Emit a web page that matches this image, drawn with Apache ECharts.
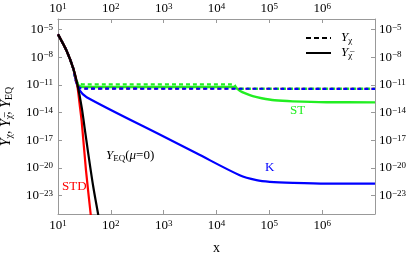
<!DOCTYPE html>
<html><head><meta charset="utf-8">
<script src="https://cdn.jsdelivr.net/npm/echarts@6/dist/echarts.min.js"></script>
<style>html,body{margin:0;padding:0;background:#fff}#c{width:409px;height:256px}</style>
</head><body><div id="c"></div>
<script>
// tick exponents
const xTickExps = [1, 2, 3, 4, 5, 6, 7];
const yTickExps = [-23, -20, -17, -14, -11, -8, -5];

// Equilibrium Y_EQ (mu = 0)
const eqX = [10, 14.6, 19.5, 23.2, 28.1, 31.6, 37.4, 46.5, 58.2, 63.1];
const eqY = [2.9e-6, 4.6e-8, 5.6e-10, 1.2e-11, 3.6e-14, 3.2e-16, 3.5e-19, 8.9e-23, 6.3e-26, 4e-27];

// STD
const stdBarX = [10, 14.6, 19.5, 22.9, 26.1, 28.1, 33.9, 41.5, 43.7];
const stdBarY = [2.9e-6, 4.6e-8, 5.6e-10, 1.26e-11, 3.6e-14, 1e-15, 5e-21, 1e-25, 5e-27];
const stdX = [10, 14.6, 19.5, 21.9, 25.1, 31.6, 1e7];
const stdY = [2.9e-6, 4.6e-8, 5.6e-10, 2.5e-11, 5e-12, 3.8e-12, 3.7e-12];

// K
const kX = [10, 14.6, 19.5, 21.9, 25.1, 31.6, 1e7];
const kY = [2.9e-6, 4.6e-8, 5.6e-10, 2.5e-11, 5e-12, 3.8e-12, 3.7e-12];
const kBarX = [10, 14.6, 19.5, 21.9, 25.1, 34.9, 977, 4190, 27500, 57000, 1.02e5, 2.8e5, 1.2e6, 1e7];
const kBarY = [2.9e-6, 4.6e-8, 5.6e-10, 2.5e-11, 3e-12, 4.4e-13, 2.6e-17, 3.8e-19, 1.6e-21, 4.7e-22, 3.1e-22, 2.4e-22, 2.0e-22, 2.0e-22];

// ST
const stX = [10, 14.6, 19.5, 21.9, 25.1, 31.6, 21200, 23500, 27500, 1e7];
const stY = [2.9e-6, 4.6e-8, 5.6e-10, 3.2e-11, 1.3e-11, 1.1e-11, 1.1e-11, 5e-12, 3.8e-12, 3.7e-12];
const stBarX = [10, 14.6, 19.5, 21.9, 25.1, 31.6, 21200, 27500, 34300, 48500, 71800, 1.26e5, 2.77e5, 1.22e6, 1e7];
const stBarY = [2.9e-6, 4.6e-8, 5.6e-10, 3.2e-11, 7.4e-12, 5.8e-12, 5.8e-12, 2.3e-12, 1.23e-12, 5.9e-13, 3.5e-13, 2.1e-13, 1.6e-13, 1.3e-13, 1.26e-13];

const pts = (xs, ys) => xs.map((x, i) => [Math.log10(x), Math.log10(ys[i])]);

const RED = '#ff0000', BLUE = '#0000ff', GREEN = '#22ee22';
const SERIF = 'Liberation Serif';
const GRAY = '#999999';

const tickRich = {
  b: { fontFamily: SERIF, fontSize: 13, color: '#000', lineHeight: 13, verticalAlign: 'bottom' },
  s: { fontFamily: SERIF, fontSize: 9, color: '#000', lineHeight: 9, verticalAlign: 'top', padding: [0, 0, 5, 0] }
};
const fmtExp = v => {
  const e = Math.round(v);
  return '{b|10}{s|' + String(e).replace('-', '\u2212') + '}';
};

function xAxisCfg(pos) {
  return {
    type: 'value', position: pos, min: 1, max: 7, interval: 1,
    axisLine: { show: true, onZero: false, lineStyle: { color: GRAY, width: 1 } },
    axisTick: { show: true, inside: true, length: 4, lineStyle: { color: GRAY } },
    axisLabel: {
      margin: pos === 'top' ? 4 : 5,
      formatter: v => (Math.round(v) === 7 ? '' : fmtExp(v)), rich: tickRich
    },
    splitLine: { show: false }
  };
}
function yAxisCfg(pos) {
  return {
    type: 'value', position: pos, min: -25, max: -3.87,
    axisLine: { show: true, onZero: false, lineStyle: { color: GRAY, width: 1 } },
    axisTick: { show: true, inside: true, length: 4, customValues: yTickExps, lineStyle: { color: GRAY } },
    axisLabel: { margin: pos === 'left' ? 5 : 4, customValues: yTickExps, formatter: fmtExp, rich: tickRich },
    splitLine: { show: false }
  };
}

const bottomX = xAxisCfg('bottom');
bottomX.name = 'x';
bottomX.nameLocation = 'middle';
bottomX.nameGap = 27;
bottomX.nameTextStyle = { fontFamily: SERIF, fontSize: 14, color: '#000' };

const leftY = yAxisCfg('left');
leftY.name = '{i|Y}{sub|\u03c7}{n|, }{i|Y}{sub|\u03c7\u0305}{n|, }{i|Y}{sub|EQ}';
leftY.nameLocation = 'middle';
leftY.nameRotate = 90;
leftY.nameGap = 44;
leftY.nameTextStyle = {
  rich: {
    i: { fontFamily: SERIF, fontStyle: 'italic', fontSize: 14, color: '#000', lineHeight: 15, verticalAlign: 'top' },
    n: { fontFamily: SERIF, fontSize: 14, color: '#000', lineHeight: 15, verticalAlign: 'top' },
    sub: { fontFamily: SERIF, fontSize: 10, color: '#000', lineHeight: 10, verticalAlign: 'bottom', padding: [8, 0, 0, 0] }
  }
};

function line(name, data, color, dash, z, width) {
  return {
    name, type: 'line', data, symbol: 'none', smooth: 0.3, z,
    xAxisIndex: 0, yAxisIndex: 0, clip: true, silent: true,
    lineStyle: { color, width: width || 2.2, type: dash || 'solid', cap: 'butt' }
  };
}

const chart = echarts.init(document.getElementById('c'), null, { renderer: 'canvas' });
const legendRich = {
  i: { fontFamily: SERIF, fontStyle: 'italic', fontSize: 13, color: '#000', lineHeight: 14, verticalAlign: 'top' },
  sub: { fontFamily: SERIF, fontSize: 9, color: '#000', lineHeight: 9, verticalAlign: 'bottom', padding: [6, 0, 0, 0] }
};
chart.setOption({
  animation: false,
  backgroundColor: '#fff',
  grid: { left: 58, right: 34, top: 19, bottom: 42, containLabel: false, outerBoundsMode: 'none' },
  xAxis: [bottomX, xAxisCfg('top')],
  yAxis: [leftY, yAxisCfg('right')],
  legend: {
    orient: 'vertical', left: 300, top: 25, itemWidth: 25, itemHeight: 14, itemGap: 0,
    data: ['Y\u03c7', 'Y\u03c7\u0305'],
    formatter: n => '{i|Y}{sub|' + n.slice(1) + '}',
    textStyle: { rich: legendRich, padding: [0, 0, 0, 5] },
    itemStyle: { color: 'rgba(0,0,0,0)', borderWidth: 0, borderColor: 'rgba(0,0,0,0)' }
  },
  series: [
    { name: 'Y\u03c7', type: 'line', data: [], symbol: 'none', lineStyle: { color: '#000', width: 2.2, type: [5, 3] }, itemStyle: { color: 'rgba(0,0,0,0)' } },
    { name: 'Y\u03c7\u0305', type: 'line', data: [], symbol: 'none', lineStyle: { color: '#000', width: 2.2 }, itemStyle: { color: 'rgba(0,0,0,0)' } },
    line('ST Ybar', pts(stBarX, stBarY), GREEN, 'solid', 3, 2.4),
    line('STD Y', pts(stdX, stdY), RED, [3, 4], 4),
    line('ST Y', pts(stX, stY), GREEN, [4, 3], 5, 2.4),
    line('K Y', pts(kX, kY), BLUE, [4, 3], 6),
    line('K Ybar', pts(kBarX, kBarY), BLUE, 'solid', 7),
    line('STD Ybar', pts(stdBarX, stdBarY), RED, 'solid', 8),
    line('EQ', pts(eqX, eqY), '#000', 'solid', 9)
  ],
  graphic: [
    { type: 'text', left: 62, top: 180, style: { text: 'STD', fill: RED, font: '13px "Liberation Serif"' } },
    { type: 'text', left: 265, top: 161, style: { text: 'K', fill: BLUE, font: '13px "Liberation Serif"' } },
    { type: 'text', left: 290, top: 104, style: { text: 'ST', fill: GREEN, font: '13px "Liberation Serif"' } },
    { type: 'text', left: 106, top: 148, style: {
        text: '{i|Y}{sub|EQ}{n|(}{i|\u03bc}{n|=0)}',
        rich: {
          i: { fontFamily: SERIF, fontStyle: 'italic', fontSize: 13, fill: '#000', lineHeight: 14, verticalAlign: 'top' },
          n: { fontFamily: SERIF, fontSize: 13, fill: '#000', lineHeight: 14, verticalAlign: 'top' },
          sub: { fontFamily: SERIF, fontSize: 9, fill: '#000', lineHeight: 9, verticalAlign: 'bottom', padding: [6, 0, 0, 0] }
        }
      } }
  ]
});
</script></body></html>
